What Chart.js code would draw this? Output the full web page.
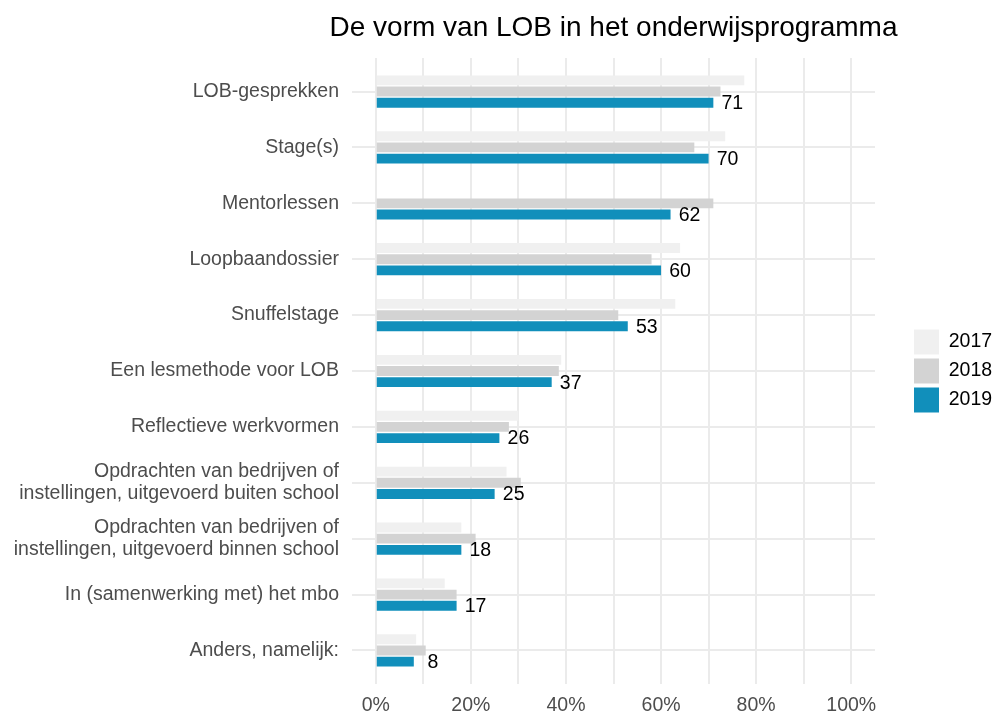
<!DOCTYPE html>
<html>
<head>
<meta charset="utf-8">
<script src="https://cdn.jsdelivr.net/npm/chart.js@4.4.1/dist/chart.umd.min.js"></script>
<style>
  body { margin: 0; background: #fff; }
  canvas { display: block; }
</style>
</head>
<body>
<canvas id="lobChart" width="993" height="715"></canvas>
<script>
// categories, top to bottom
const categories = [
    'LOB-gesprekken',
    'Stage(s)',
    'Mentorlessen',
    'Loopbaandossier',
    'Snuffelstage',
    'Een lesmethode voor LOB',
    'Reflectieve werkvormen',
    ['Opdrachten van bedrijven of', 'instellingen, uitgevoerd buiten school'],
    ['Opdrachten van bedrijven of', 'instellingen, uitgevoerd binnen school'],
    'In (samenwerking met) het mbo',
    'Anders, namelijk:'
];

// percentages per year
const values2017 = [77.5, 73.5, null, 64, 63, 39, 30, 27.5, 18, 14.5, 8.5];
const values2018 = [72.5, 67, 71, 58, 51, 38.5, 28, 30.5, 21, 17, 10.5];
const values2019 = [71, 70, 62, 60, 53, 37, 26, 25, 18, 17, 8];

const years = ['2017', '2018', '2019'];
const xTicks = [0, 10, 20, 30, 40, 50, 60, 70, 80, 90, 100];

Chart.defaults.font.family = "'Liberation Sans', Arial, sans-serif";

// value labels next to the 2019 bars
const valueLabels = {
    id: 'valueLabels',
    afterDatasetsDraw(chart) {
        const ctx = chart.ctx;
        const xScale = chart.scales.x;
        const meta = chart.getDatasetMeta(2);
        ctx.save();
        ctx.font = "19.5px 'Liberation Sans', Arial, sans-serif";
        ctx.fillStyle = '#000';
        ctx.textAlign = 'center';
        ctx.textBaseline = 'middle';
        meta.data.forEach((bar, i) => {
            const v = values2019[i];
            if (v == null) return;
            ctx.fillText(Math.round(v), xScale.getPixelForValue(v + 4), bar.y + 1);
        });
        ctx.restore();
    }
};

// centre the title over the panel instead of the whole canvas
const centreTitle = {
    id: 'centreTitle',
    beforeDraw(chart) {
        const t = chart.titleBlock;
        const a = chart.chartArea;
        const mid = (a.left + a.right) / 2;
        const half = Math.min(mid, chart.width - mid);
        t.left = mid - half;
        t.right = mid + half;
        t.width = 2 * half;
    }
};

const ctx = document.getElementById('lobChart').getContext('2d');
new Chart(ctx, {
    type: 'bar',
    data: {
        labels: categories,
        datasets: [
            { label: years[0], data: values2017, backgroundColor: '#f0f0f0' },
            { label: years[1], data: values2018, backgroundColor: '#d3d3d3' },
            { label: years[2], data: values2019, backgroundColor: '#118fbb' }
        ].map(d => Object.assign(d, {
            borderWidth: 0,
            categoryPercentage: 0.6,
            barPercentage: 0.88,
            xAxisID: 'x',
            yAxisID: 'y'
        }))
    },
    options: {
        indexAxis: 'y',
        responsive: false,
        animation: false,
        events: [],
        layout: { padding: 0 },
        scales: {
            x: {
                type: 'linear',
                min: -5,
                max: 105,
                afterBuildTicks: axis => {
                    axis.ticks = xTicks.map(v => ({ value: v }));
                },
                afterFit: axis => { axis.height = 31; },
                ticks: {
                    autoSkip: false,
                    maxRotation: 0,
                    padding: 12,
                    color: '#4d4d4d',
                    font: { size: 19.5, lineHeight: 1 },
                    callback: v => (v % 20 === 0 ? v + '%' : '')
                },
                grid: { color: '#ebebeb', lineWidth: 2, drawTicks: false },
                border: { display: false }
            },
            y: {
                type: 'category',
                // ggplot style expansion: 0.6 category on each side
                afterBuildTicks: scale => {
                    scale._startValue = -0.6;
                    scale._valueRange = categories.length - 1 + 1.2;
                },
                afterFit: scale => { scale.width = 352; },
                ticks: {
                    padding: 13,
                    color: '#4d4d4d',
                    font: { size: 19.5, lineHeight: 1.1 }
                },
                grid: { color: '#ebebeb', lineWidth: 2, drawTicks: false, offset: false },
                border: { display: false }
            },
            // empty axis that keeps the legend away from the panel
            gap: {
                type: 'linear',
                axis: 'y',
                position: 'right',
                display: true,
                afterFit: scale => { scale.width = 35; },
                ticks: { display: false },
                grid: { display: false },
                border: { display: false }
            }
        },
        plugins: {
            title: {
                display: true,
                text: 'De vorm van LOB in het onderwijsprogramma',
                color: '#000',
                font: { size: 28, weight: 'normal' },
                padding: { top: 11.9, bottom: 12.5 }
            },
            legend: {
                position: 'right',
                fullSize: false,
                maxWidth: 83,
                labels: {
                    boxWidth: 25,
                    boxHeight: 25,
                    padding: 4,
                    color: '#000',
                    font: { size: 19.5 }
                }
            },
            tooltip: { enabled: false }
        }
    },
    plugins: [valueLabels, centreTitle]
});
</script>
</body>
</html>
